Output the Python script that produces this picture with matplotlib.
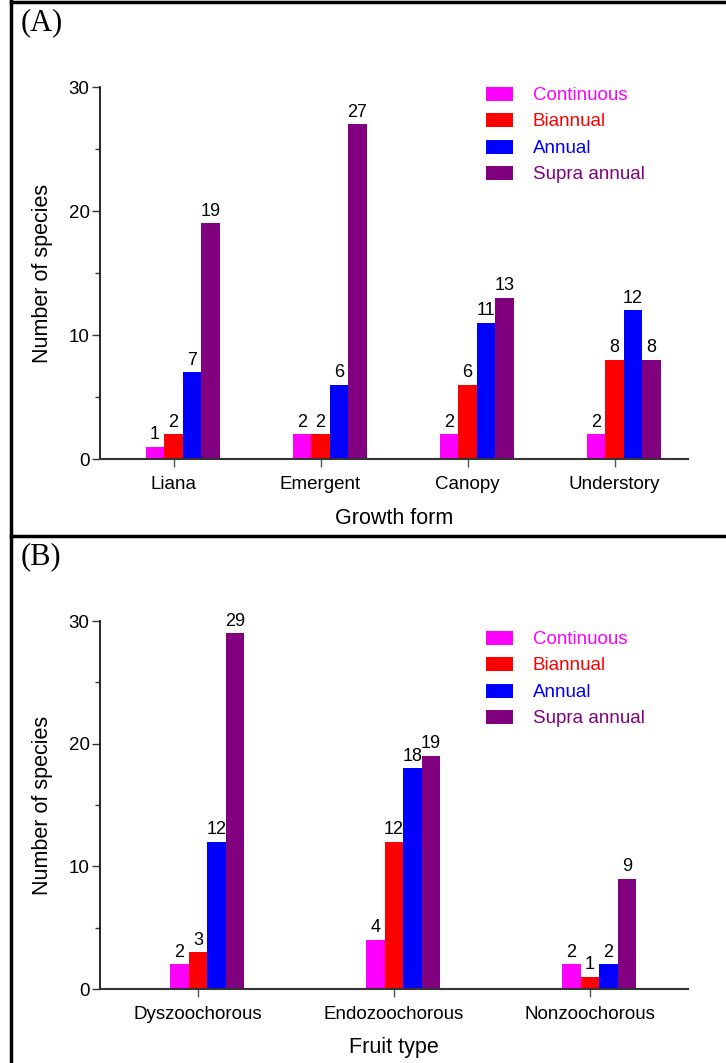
import matplotlib
matplotlib.use("Agg")
import matplotlib.pyplot as plt
import numpy as np
from matplotlib.lines import Line2D

plt.rcParams['font.family'] = ['Liberation Sans', 'DejaVu Sans']

series = ["Continuous", "Biannual", "Annual", "Supra annual"]
colors = ["#FF00FF", "#FF0000", "#0000FF", "#800080"]

growth_forms = ["Liana", "Emergent", "Canopy", "Understory"]
growth_continuous = [1, 2, 2, 2]
growth_biannual = [2, 2, 6, 8]
growth_annual = [7, 6, 11, 12]
growth_supra = [19, 27, 13, 8]

fruit_types = ["Dyszoochorous", "Endozoochorous", "Nonzoochorous"]
fruit_continuous = [2, 4, 2]
fruit_biannual = [3, 12, 1]
fruit_annual = [12, 18, 2]
fruit_supra = [29, 19, 9]

W, H = 726, 1063
fig = plt.figure(figsize=(W / 100, H / 100), dpi=100)


def px_axes(x0, x1, ytop, ybot):
    return fig.add_axes([x0 / W, 1 - ybot / H, (x1 - x0) / W, (ybot - ytop) / H])


def draw_panel(ax, cats, data, bar_w, xlabel, label_y_px, leg_top_px, panel_label, panel_label_y):
    x = np.arange(len(cats))
    for k, (vals, c) in enumerate(zip(data, colors)):
        pos = x + (k - 1) * bar_w
        ax.bar(pos, vals, width=bar_w, color=c, edgecolor='none', zorder=2)
        for p, v in zip(pos, vals):
            ax.annotate(str(v), (p, v), xytext=(0, 2.5), textcoords='offset points',
                        ha='center', va='bottom', fontsize=13, color='black',
                        annotation_clip=False)
    ax.set_xlim(-0.5, len(cats) - 0.5)
    ax.set_ylim(0, 30)
    ax.set_xticks(x)
    ax.set_xticklabels(cats, fontsize=13.5)
    ax.set_yticks([0, 10, 20, 30])
    ax.set_yticks([5, 15, 25], minor=True)
    ax.tick_params(axis='y', which='major', length=5.5, width=1, color='#333333',
                   labelsize=13.5, pad=2)
    ax.tick_params(axis='y', which='minor', length=3.5, width=1, color='#333333')
    ax.tick_params(axis='x', which='major', length=6, width=1, color='#555555',
                   labelsize=13.5, pad=6)
    for s in ['top', 'right']:
        ax.spines[s].set_visible(False)
    ax.spines['left'].set_linewidth(1.2)
    ax.spines['left'].set_color('black')
    ax.spines['bottom'].set_linewidth(1.5)
    ax.spines['bottom'].set_color('#333333')
    ax.set_ylabel("Number of species", fontsize=15.5)
    ax.yaxis.set_label_coords((43 - 100) / 588, 0.5)
    ax.yaxis.label.set_va('center')
    fig.text(394 / W, 1 - label_y_px / H, xlabel, ha='center', va='center', fontsize=15.5)
    # legend (manual layout)
    for k, (name, c) in enumerate(zip(series, colors)):
        yc = leg_top_px + k * 26.3
        fig.patches.append(matplotlib.patches.Rectangle(
            (486 / W, 1 - (yc + 7) / H), 27 / W, 14 / H, transform=fig.transFigure,
            facecolor=c, edgecolor='none'))
        fig.text(533 / W, 1 - (yc + 1.5) / H, name, ha='left', va='center', fontsize=13.5, color=c)
    fig.text(21 / W, 1 - panel_label_y / H, panel_label, ha='left', va='center',
             fontsize=22, family='Liberation Serif')


axA = px_axes(100, 688, 87, 459)
draw_panel(axA, growth_forms,
           [growth_continuous, growth_biannual, growth_annual, growth_supra],
           18.5 / 147, "Growth form", 519, 94, "(A)", 23)

axB = px_axes(100, 688, 621, 989)
draw_panel(axB, fruit_types,
           [fruit_continuous, fruit_biannual, fruit_annual, fruit_supra],
           18.5 / 196, "Fruit type", 1048, 638, "(B)", 557)

# panel borders
lw = 2.5
for (xs, ys) in [([11, 11], [1, 1063]), ([11, 726], [2, 2]), ([11, 726], [536, 536])]:
    fig.add_artist(Line2D([v / W for v in xs], [1 - v / H for v in ys],
                          transform=fig.transFigure, color='black', linewidth=lw))

fig.savefig("out.png", dpi=100)
